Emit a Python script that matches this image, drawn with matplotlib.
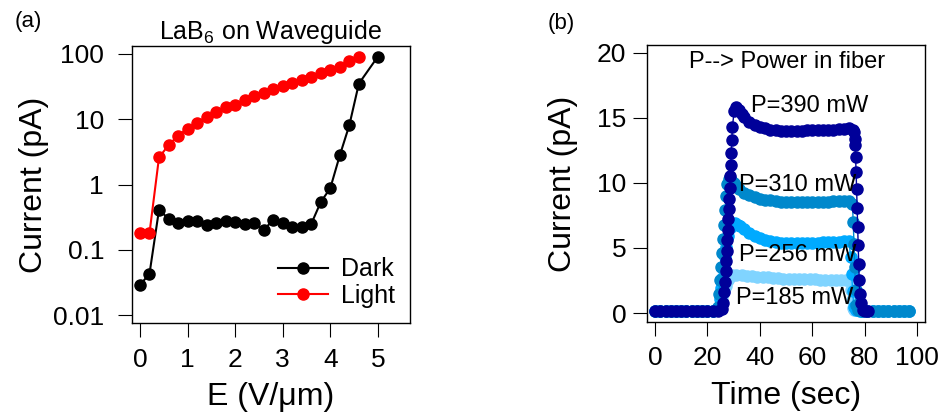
import matplotlib
matplotlib.use("Agg")
import matplotlib.pyplot as plt
from matplotlib.ticker import NullLocator

plt.rcParams['font.family'] = ['Liberation Sans', 'DejaVu Sans']

# ---- panel (a): LaB6 on waveguide, I vs E ----
E_dark = [0, 0.2, 0.4, 0.6, 0.8, 1.0, 1.2, 1.4, 1.6, 1.8, 2.0, 2.2, 2.4, 2.6,
          2.8, 3.0, 3.2, 3.4, 3.6, 3.8, 4.0, 4.2, 4.4, 4.6, 5.0]
I_dark = [0.029, 0.043, 0.41, 0.30, 0.26, 0.28, 0.28, 0.24, 0.26, 0.28, 0.27,
          0.25, 0.26, 0.20, 0.29, 0.26, 0.22, 0.22, 0.25, 0.54, 0.88, 2.8, 8.1,
          35, 91]
E_light = [0, 0.2, 0.4, 0.6, 0.8, 1.0, 1.2, 1.4, 1.6, 1.8, 2.0, 2.2, 2.4, 2.6,
           2.8, 3.0, 3.2, 3.4, 3.6, 3.8, 4.0, 4.2, 4.4, 4.6]
I_light = [0.18, 0.18, 2.6, 4.0, 5.6, 7.2, 8.9, 10.9, 12.9, 15.3, 16.4, 19.8,
           22.5, 25.6, 28.8, 32.4, 35.5, 40.4, 45, 50.6, 56, 62.5, 78, 91]

# ---- panel (b): current vs time for several fiber powers ----
base_left_t = [0, 2, 4, 6, 8, 10, 12, 14, 16, 18, 20, 22]
base_left_i = [0.15, 0.12, 0.14, 0.13, 0.15, 0.12, 0.13, 0.14, 0.12, 0.13, 0.15, 0.14]
base_right_t = [79, 81, 83, 85, 87, 89, 91, 93, 95, 97]
base_right_i = [0.16, 0.14, 0.15, 0.13, 0.14, 0.15, 0.13, 0.14, 0.15, 0.14]

t390 = [24, 25.5,
        26.0, 26.3, 26.6, 26.9, 27.1, 27.3, 27.5, 27.7, 27.9, 28.1, 28.3, 28.5,
        28.7, 28.9, 29.1, 29.3, 29.5,
        30.2, 31, 32, 33, 34, 36, 38, 40, 42, 44, 46, 48, 50, 52, 54, 56, 58,
        60, 62, 64, 66, 68, 70, 72, 74, 75.5,
        75.8, 76.1, 76.3, 76.5, 76.7, 76.9, 77.1, 77.3, 77.5, 77.7, 77.9, 78.1,
        78.4, 79.2, 80.2, 81.2]
i390 = [0.16, 0.3,
        0.8, 1.6, 2.4, 3.2, 4.0, 4.8, 5.6, 6.4, 7.2, 8.0, 8.8, 9.6,
        10.5, 11.4, 12.3, 13.3, 14.3,
        15.5, 15.8, 15.6, 15.3, 15.1, 14.7, 14.45, 14.3, 14.2, 14.1, 14.05,
        14.0, 13.95, 14.0, 14.0, 14.0, 14.05, 14.05, 14.05, 14.1, 14.1, 14.1,
        14.15, 14.15, 14.2, 14.1,
        13.9, 13.4, 12.9, 12.0, 10.85, 9.5, 8.1, 6.6, 5.2, 3.8, 2.5, 1.5,
        0.8, 0.25, 0.15, 0.15]

t310 = [23.5,
        24.0, 24.4, 24.8, 25.2, 25.6, 26.0, 26.4, 26.8, 27.2, 27.6,
        28.3, 29, 30, 31, 32, 34, 36, 38, 40, 42, 44, 46, 48, 50, 52, 54, 56,
        58, 60, 62, 64, 66, 68, 70, 72, 74, 75.3,
        75.6, 75.9, 76.2, 76.5, 76.8, 77.5]
i310 = [0.2,
        0.5, 1.5, 2.5, 3.5, 4.6, 5.7, 6.8, 7.9, 9.0, 9.9,
        10.3, 10.2, 10.0, 9.75, 9.55, 9.25, 9.05, 8.9, 8.8, 8.7, 8.65, 8.6,
        8.55, 8.5, 8.5, 8.5, 8.5, 8.5, 8.5, 8.55, 8.55, 8.55, 8.6, 8.6, 8.6,
        8.6, 8.4,
        7.0, 5.3, 3.5, 1.8, 0.6, 0.2]

t256 = [23.5,
        24.2, 24.7, 25.2, 25.7, 26.2, 26.7, 27.2, 27.7,
        28.5, 29.5, 30.5, 31.5, 32.5, 34, 36, 38, 40, 42, 44, 46, 48, 50, 52,
        54, 56, 58, 60, 62, 64, 66, 68, 70, 72, 74,
        74.6, 75.0, 75.4, 75.8, 76.5, 78]
i256 = [0.2,
        0.4, 1.1, 1.9, 2.7, 3.5, 4.3, 5.1, 5.9,
        6.5, 6.8, 6.9, 6.8, 6.65, 6.45, 6.15, 5.95, 5.75, 5.6, 5.5, 5.45, 5.4,
        5.35, 5.35, 5.35, 5.4, 5.4, 5.4, 5.4, 5.45, 5.45, 5.45, 5.45, 5.5, 5.5,
        4.3, 3.0, 1.7, 0.5, 0.2, 0.15]

t185 = [23.5,
        24.3, 25.0, 25.7, 26.4, 27.1, 27.8,
        28.5, 29.5, 31, 33, 35, 37, 39, 41, 43, 45, 47, 49, 51, 53, 55, 57, 59,
        61, 63, 65, 67, 69, 71, 73, 74.2,
        74.6, 75.0, 75.4, 76, 78]
i185 = [0.2,
        0.4, 0.8, 1.2, 1.7, 2.1, 2.5,
        2.8, 2.9, 2.9, 2.9, 2.85, 2.85, 2.8, 2.8, 2.75, 2.7, 2.7, 2.65, 2.65,
        2.6, 2.6, 2.6, 2.6, 2.6, 2.55, 2.55, 2.55, 2.5, 2.5, 2.5, 2.45,
        1.8, 1.0, 0.4, 0.2, 0.15]

powers = ['P=185 mW', 'P=256 mW', 'P=310 mW', 'P=390 mW']
power_colors = ['#80D4FF', '#00AAFF', '#0088CC', '#000099']
label_pos = [(53.4, 1.15), (54.3, 4.46), (54.3, 9.85), (58.8, 15.9)]

fig = plt.figure(figsize=(9.42, 4.2), dpi=100)
ax1 = fig.add_axes([0.140, 0.231, 0.295, 0.660])
ax2 = fig.add_axes([0.687, 0.233, 0.295, 0.660])

# panel (a)
ax1.plot(E_dark, I_dark, '-o', color='black', ms=8, lw=1.5, label='Dark')
ax1.plot(E_light, I_light, '-o', color='red', ms=8, lw=1.5, label='Light')
ax1.set_yscale('log')
ax1.set_xlim(-0.17, 5.67)
ax1.set_ylim(0.0076, 133)
ax1.set_xticks([0, 1, 2, 3, 4, 5])
ax1.set_yticks([0.01, 0.1, 1, 10, 100], ['0.01', '0.1', '1', '10', '100'])
ax1.yaxis.set_minor_locator(NullLocator())
ax1.tick_params(axis='both', direction='out', length=10, width=0.8, labelsize=19)
ax1.tick_params(axis='y', pad=10)
ax1.tick_params(axis='x', pad=8)
ax1.set_xlabel('E (V/μm)', fontsize=23, labelpad=7)
ax1.set_ylabel('Current (pA)', fontsize=23, labelpad=3)
ax1.set_title('LaB$\\mathregular{_6}$ on Waveguide', fontsize=18, pad=5)
ax1.legend(loc='lower right', frameon=False, fontsize=18, labelspacing=0.1,
           handletextpad=0.5, borderaxespad=0.2, handlelength=2)

# panel (b)
series = [(t185, i185), (t256, i256), (t310, i310), (t390, i390)]
for k, (tt, ii) in enumerate(series):
    if k == 3:
        t_all = base_left_t + tt
        i_all = base_left_i + ii
    else:
        t_all = base_left_t + tt + base_right_t
        i_all = base_left_i + ii + base_right_i
    ax2.plot(t_all, i_all, '-o', color=power_colors[k], ms=8, lw=1)
for txt, (x, y) in zip(powers, label_pos):
    ax2.text(x, y, txt, fontsize=17, ha='center', va='center')
ax2.text(50.4, 19.3, 'P--> Power in fiber', fontsize=17, ha='center', va='center')
ax2.set_xlim(-3, 103)
ax2.set_ylim(-0.7, 20.6)
ax2.set_xticks([0, 20, 40, 60, 80, 100])
ax2.set_yticks([0, 5, 10, 15, 20])
ax2.tick_params(axis='both', direction='out', length=10, width=0.8, labelsize=19)
ax2.tick_params(axis='y', pad=5)
ax2.tick_params(axis='x', pad=7)
ax2.set_xlabel('Time (sec)', fontsize=23, labelpad=8)
ax2.set_ylabel('Current (pA)', fontsize=23, labelpad=14)

for ax in (ax1, ax2):
    for s in ax.spines.values():
        s.set_linewidth(1.0)

fig.text(28 / 942, 1 - 21 / 420, '(a)', fontsize=16, ha='center', va='center')
fig.text(561 / 942, 1 - 23 / 420, '(b)', fontsize=16, ha='center', va='center')

fig.savefig('out.png', dpi=100)
